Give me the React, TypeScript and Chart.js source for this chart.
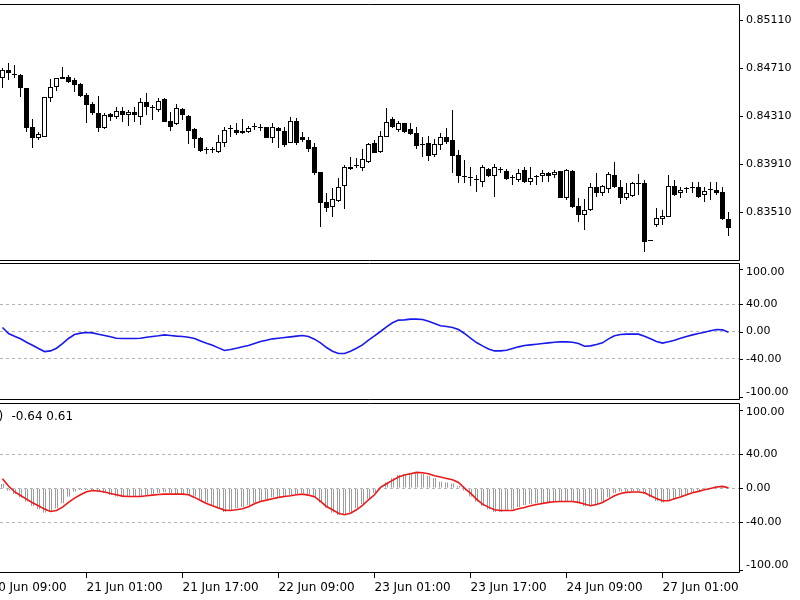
import React, { useEffect, useRef } from "react";
import { Chart, registerables } from "chart.js";

Chart.register(...registerables);

const FONT = "'DejaVu Sans', sans-serif";

// ---------- data ----------
const opens = [
  0.84631, 0.84698, 0.84664, 0.84656, 0.84548, 0.84223, 0.84131, 0.84139, 0.84464, 0.84556,
  0.84639, 0.84639, 0.84614, 0.84581, 0.84489, 0.84414, 0.84339, 0.84214, 0.84331, 0.84306,
  0.84356, 0.84323, 0.84348, 0.84306, 0.84431, 0.84381, 0.84364, 0.84456, 0.84273, 0.84248,
  0.84373, 0.84314, 0.84206, 0.84131, 0.84031, 0.84031, 0.84014, 0.84089, 0.84206, 0.84198,
  0.84189, 0.84181, 0.84223, 0.84214, 0.84223, 0.84131, 0.84214, 0.84189, 0.84089, 0.84273,
  0.84139, 0.84114, 0.84056, 0.83848, 0.83598, 0.83556, 0.83606, 0.83731, 0.83889, 0.83898,
  0.83881, 0.83931, 0.84089, 0.84014, 0.84139, 0.84289, 0.84198, 0.84256, 0.84206, 0.84173,
  0.84073, 0.84089, 0.83989, 0.84073, 0.84139, 0.84114, 0.83989, 0.83806, 0.83798, 0.83781,
  0.83764, 0.83873, 0.83814, 0.83864, 0.83856, 0.83798, 0.83781, 0.83864, 0.83764, 0.83806,
  0.83814, 0.83839, 0.83823, 0.83856, 0.83631, 0.83856, 0.83564, 0.83489, 0.83531, 0.83723,
  0.83673, 0.83706, 0.83823, 0.83723, 0.83631, 0.83648, 0.83748, 0.83756, 0.83273, 0.83406,
  0.83456, 0.83473, 0.83731, 0.83673, 0.83706, 0.83714, 0.83723, 0.83656, 0.83698, 0.83698,
  0.83681, 0.83456,
];
const highs = [
  0.84714, 0.84756, 0.84739, 0.84664, 0.84548, 0.84289, 0.84181, 0.84473, 0.84623, 0.84631,
  0.84723, 0.84656, 0.84631, 0.84589, 0.84506, 0.84431, 0.84481, 0.84339, 0.84339, 0.84389,
  0.84389, 0.84364, 0.84389, 0.84464, 0.84506, 0.84406, 0.84464, 0.84464, 0.84348, 0.84414,
  0.84381, 0.84323, 0.84214, 0.84139, 0.84056, 0.84056, 0.84156, 0.84223, 0.84239, 0.84256,
  0.84289, 0.84231, 0.84256, 0.84248, 0.84223, 0.84256, 0.84223, 0.84223, 0.84306, 0.84298,
  0.84181, 0.84139, 0.84089, 0.83848, 0.83673, 0.83714, 0.83798, 0.83906, 0.83973, 0.83964,
  0.84039, 0.84089, 0.84114, 0.84189, 0.84381, 0.84306, 0.84273, 0.84256, 0.84256, 0.84223,
  0.84139, 0.84148, 0.84123, 0.84173, 0.84214, 0.84364, 0.84031, 0.83948, 0.83889, 0.83823,
  0.83906, 0.83881, 0.83914, 0.83889, 0.83873, 0.83823, 0.83873, 0.83889, 0.83889, 0.83823,
  0.83864, 0.83848, 0.83864, 0.83856, 0.83873, 0.83864, 0.83631, 0.83623, 0.83756, 0.83839,
  0.83739, 0.83848, 0.83931, 0.83781, 0.83756, 0.83764, 0.83831, 0.83781, 0.83273, 0.83548,
  0.83531, 0.83823, 0.83781, 0.83723, 0.83723, 0.83764, 0.83764, 0.83723, 0.83764, 0.83764,
  0.83723, 0.83514,
];
const lows = [
  0.84548, 0.84614, 0.84631, 0.84473, 0.84181, 0.84048, 0.84114, 0.84139, 0.84431, 0.84523,
  0.84623, 0.84589, 0.84514, 0.84473, 0.84256, 0.84323, 0.84181, 0.84206, 0.84273, 0.84289,
  0.84264, 0.84231, 0.84264, 0.84239, 0.84323, 0.84281, 0.84348, 0.84264, 0.84189, 0.84239,
  0.84281, 0.84081, 0.84048, 0.84014, 0.83998, 0.84006, 0.84006, 0.84056, 0.84139, 0.84156,
  0.84164, 0.84173, 0.84198, 0.84189, 0.84131, 0.84089, 0.84048, 0.84056, 0.84089, 0.84073,
  0.84098, 0.84014, 0.83823, 0.83389, 0.83514, 0.83473, 0.83598, 0.83539, 0.83864, 0.83881,
  0.83856, 0.83923, 0.84006, 0.84006, 0.84139, 0.84214, 0.84181, 0.84173, 0.84156, 0.84039,
  0.83973, 0.83939, 0.83973, 0.84031, 0.84081, 0.83839, 0.83756, 0.83756, 0.83731, 0.83681,
  0.83723, 0.83806, 0.83639, 0.83839, 0.83781, 0.83739, 0.83764, 0.83756, 0.83739, 0.83739,
  0.83764, 0.83764, 0.83798, 0.83631, 0.83614, 0.83548, 0.83431, 0.83364, 0.83523, 0.83639,
  0.83648, 0.83673, 0.83714, 0.83581, 0.83614, 0.83639, 0.83656, 0.83181, 0.83273, 0.83389,
  0.83406, 0.83473, 0.83648, 0.83631, 0.83673, 0.83673, 0.83631, 0.83598, 0.83614, 0.83656,
  0.83448, 0.83314,
];
const closes = [
  0.84698, 0.84673, 0.84656, 0.84548, 0.84214, 0.84131, 0.84164, 0.84473, 0.84556, 0.84631,
  0.84623, 0.84598, 0.84573, 0.84481, 0.84406, 0.84339, 0.84214, 0.84323, 0.84306, 0.84356,
  0.84323, 0.84348, 0.84323, 0.84431, 0.84389, 0.84381, 0.84439, 0.84264, 0.84223, 0.84381,
  0.84323, 0.84189, 0.84123, 0.84023, 0.84031, 0.84031, 0.84098, 0.84198, 0.84206, 0.84173,
  0.84173, 0.84214, 0.84223, 0.84214, 0.84131, 0.84223, 0.84189, 0.84073, 0.84273, 0.84089,
  0.84114, 0.84039, 0.83839, 0.83589, 0.83548, 0.83623, 0.83723, 0.83889, 0.83873, 0.83898,
  0.83956, 0.84081, 0.84006, 0.84148, 0.84264, 0.84223, 0.84256, 0.84181, 0.84164, 0.84064,
  0.84073, 0.83981, 0.84081, 0.84139, 0.84098, 0.83981, 0.83814, 0.83806, 0.83798, 0.83781,
  0.83889, 0.83814, 0.83889, 0.83864, 0.83789, 0.83798, 0.83839, 0.83764, 0.83798, 0.83806,
  0.83839, 0.83814, 0.83848, 0.83631, 0.83864, 0.83556, 0.83489, 0.83531, 0.83723, 0.83673,
  0.83731, 0.83831, 0.83723, 0.83631, 0.83673, 0.83756, 0.83748, 0.83264, 0.83273, 0.83464,
  0.83481, 0.83731, 0.83656, 0.83698, 0.83706, 0.83714, 0.83639, 0.83689, 0.83698, 0.83673,
  0.83456, 0.83381,
];
// first indicator (blue line)
const oscMain = [
  5.9, -2.9, -6.8, -10.7, -15.6, -20, -24.9, -29.3, -28.3, -24.4,
  -17.6, -10.2, -4.4, -2.4, -1.5, -2, -3.9, -5.9, -7.8, -9.8,
  -10.2, -10.2, -10.2, -9.8, -8.3, -7.3, -6.3, -4.9, -5.9, -6.8,
  -7.3, -8.3, -10.2, -13.7, -17, -20, -23.9, -27.8, -26.4, -24.4,
  -22.4, -20.5, -17.6, -14.6, -12.7, -10.7, -9.8, -8.8, -7.8, -6.8,
  -5.9, -7.3, -11.2, -16.6, -23.4, -28.8, -32.2, -32.2, -28.8, -24.4,
  -19.5, -12.7, -6.3, 0, 6.8, 12.7, 16.6, 17, 18, 18,
  17.6, 15.1, 11.7, 8.3, 7.3, 5.9, 2.9, -2.9, -9.8, -16.1,
  -21, -25.4, -28.3, -28.3, -27.3, -24.9, -22.4, -20.5, -19.5, -18.5,
  -17.6, -16.6, -15.6, -15.1, -15.1, -15.6, -17.6, -21.5, -21, -19,
  -16.6, -10.7, -6.3, -4.4, -3.9, -3.9, -3.9, -6.8, -10.7, -14.6,
  -17, -15.1, -12.7, -9.8, -7.3, -4.9, -2.9, -1, 1, 2.9,
  2.4, -1,
];
// second indicator: histogram (grey) and signal (red)
const histValues = [
  5, -3, -7, -11, -16, -21, -25, -29, -28, -24,
  -18, -10, -4, -2, -2, -2, -4, -6, -8, -10,
  -10, -10, -10, -10, -8, -7, -6, -5, -6, -7,
  -7, -8, -10, -14, -17, -20, -24, -28, -26, -24,
  -22, -20, -18, -15, -13, -11, -10, -9, -8, -7,
  -6, -7, -11, -17, -23, -29, -32, -32, -29, -24,
  -19, -13, -6, 0, 7, 12, 16, 17, 18, 18,
  17, 15, 12, 8, 7, 6, 3, -3, -10, -16,
  -21, -25, -28, -28, -27, -25, -22, -20, -19, -18,
  -18, -17, -16, -15, -15, -16, -18, -21, -21, -19,
  -16, -11, -6, -4, -4, -4, -4, -7, -11, -15,
  -17, -15, -13, -10, -7, -5, -3, -1, 1, 3,
  2, -0.64,
];
const signalValues = [
  11.2, 2.6, -4.1, -8.5, -12.8, -17.1, -20.7, -24.6, -27.4, -26.2,
  -22.3, -16.7, -11.6, -7.7, -4.1, -2.6, -3.3, -4.5, -6.1, -7.7,
  -9.3, -9.7, -9.7, -9.7, -8.9, -8.1, -7.3, -6.9, -6.9, -6.9,
  -6.9, -7.7, -10.8, -14.4, -17.9, -20.7, -23.4, -25.8, -26.2, -25.4,
  -24.2, -21.9, -18.3, -15.6, -14, -12.4, -10.8, -9.7, -8.9, -7.7,
  -6.9, -8.1, -10, -15.6, -21.5, -25.4, -29.4, -31.3, -29.4, -25.4,
  -20.3, -13.6, -7.7, 1, 5.3, 9.3, 13.2, 15.6, 17.1, 18.7,
  18.3, 17.1, 14.8, 13.2, 11.6, 10, 6.9, 0.2, -5.7, -12.8,
  -18.7, -22.3, -25.4, -26.2, -26.2, -26.2, -24.2, -22.7, -20.7, -19.1,
  -17.9, -16.7, -16, -15.6, -15.6, -15.6, -16.7, -18.7, -20.7, -19.1,
  -16.7, -12.8, -8.9, -6.1, -4.9, -4.5, -4.5, -5.3, -8.9, -12,
  -14.8, -14.8, -12.4, -10.4, -7.7, -5.3, -3.7, -1.8, -0.2, 1.4,
  2.2, 0.61,
];
const priceTicks = [0.8351, 0.8391, 0.8431, 0.8471, 0.8511];
const oscTicks = [-100, -40, 0, 40, 100];
const levelLines = [-40, 0, 40];
const timeTickIndex = [-2, 14, 30, 46, 62, 78, 94, 110];
const timeTickLabels = [
  "20 Jun 09:00", "21 Jun 01:00", "21 Jun 17:00", "22 Jun 09:00",
  "23 Jun 01:00", "23 Jun 17:00", "24 Jun 09:00", "27 Jun 01:00",
];

// ---------- layout ----------
const AXIS_W = 61;
const X_MIN = -2.5 / 6;
const X_MAX = (739 - 2.5) / 6;
const PRICE_MIN = 0.831058;
const PRICE_MAX = 0.852475;

const fitY = (s: any) => {
  s.width = AXIS_W;
  s.paddingTop = 0;
  s.paddingBottom = 0;
};

const framePlugin = {
  id: "paneFrame",
  afterDraw(chart: any) {
    const { ctx, chartArea: a } = chart;
    const top = Math.floor(a.top) + 0.5;
    const bottom = Math.ceil(a.bottom) - 0.5;
    const right = Math.round(a.right) + 0.5;
    ctx.save();
    ctx.strokeStyle = "#000";
    ctx.lineWidth = 1;
    ctx.beginPath();
    ctx.moveTo(0, top);
    ctx.lineTo(right, top);
    ctx.lineTo(right, bottom);
    ctx.lineTo(0, bottom);
    ctx.stroke();
    ctx.restore();
  },
};

const oscAxisPlugin = {
  id: "oscAxis",
  afterDraw(chart: any) {
    const { ctx, chartArea: a, scales } = chart;
    const y = scales.y;
    ctx.save();
    ctx.font = `11px ${FONT}`;
    ctx.fillStyle = "#000";
    ctx.strokeStyle = "#000";
    ctx.lineWidth = 1;
    ctx.textBaseline = "middle";
    ctx.textAlign = "left";
    for (const v of oscTicks) {
      const py = y.getPixelForValue(v);
      const labelY = Math.min(Math.max(py, a.top + 9), a.bottom - 8);
      const markY = Math.round(Math.min(Math.max(py, a.top + 6), a.bottom - 3)) + 0.5;
      ctx.beginPath();
      ctx.moveTo(a.right, markY);
      ctx.lineTo(a.right + 4, markY);
      ctx.stroke();
      ctx.fillText(v.toFixed(2), a.right + 7, labelY);
    }
    ctx.restore();
  },
};

const titlePlugin = {
  id: "oscTitle",
  afterDraw(chart: any) {
    const { ctx, chartArea: a } = chart;
    ctx.save();
    ctx.font = `12px ${FONT}`;
    ctx.fillStyle = "#000";
    ctx.textBaseline = "middle";
    ctx.textAlign = "left";
    const h = histValues[histValues.length - 1];
    const s = signalValues[signalValues.length - 1];
    ctx.fillText(")", -1.5, a.top + 13);
    ctx.fillText(`${h.toFixed(2)} ${s.toFixed(2)}`, 11.5, a.top + 13);
    ctx.restore();
  },
};

const hiddenX = {
  type: "linear",
  display: false,
  min: X_MIN,
  max: X_MAX,
  offset: false,
  grid: { offset: false },
};

const oscY = {
  type: "linear",
  position: "right",
  min: -100,
  max: 100,
  afterFit: fitY,
  afterBuildTicks: (s: any) => {
    s.ticks = oscTicks.map((v) => ({ value: v }));
  },
  ticks: { display: false },
  grid: {
    drawOnChartArea: true,
    drawTicks: false,
    lineWidth: 1,
    color: (c: any) =>
      c.tick && levelLines.includes(c.tick.value) ? "#b4b4b4" : "rgba(0,0,0,0)",
  },
  border: { display: false, dash: [3, 3] },
};

const baseOpts = {
  responsive: false,
  maintainAspectRatio: false,
  animation: false,
  devicePixelRatio: 1,
  events: [],
  plugins: { legend: { display: false }, tooltip: { enabled: false } },
};

export default function App() {
  const ref1 = useRef<HTMLCanvasElement>(null);
  const ref2 = useRef<HTMLCanvasElement>(null);
  const ref3 = useRef<HTMLCanvasElement>(null);

  useEffect(() => {
    const idx = opens.map((_, i) => i);

    const priceChart = new Chart(ref1.current as HTMLCanvasElement, {
      type: "bar",
      data: {
        datasets: [
          {
            label: "body",
            data: idx.map((i) => ({ x: i, y: [opens[i], closes[i]] })) as any,
            backgroundColor: idx.map((i) => (closes[i] > opens[i] ? "#ffffff" : "#000000")),
            borderColor: "#000000",
            borderWidth: 1,
            borderSkipped: false,
            barThickness: 5,
            barPercentage: 1,
            categoryPercentage: 1,
            minBarLength: 1,
            grouped: false,
            inflateAmount: 0,
            order: 0,
          } as any,
          {
            label: "wick",
            data: idx.map((i) => ({ x: i, y: [lows[i], highs[i]] })) as any,
            backgroundColor: "#000000",
            borderWidth: 0,
            barThickness: 1,
            barPercentage: 1,
            categoryPercentage: 1,
            grouped: false,
            inflateAmount: 0,
            order: 1,
          } as any,
        ],
      },
      options: {
        ...baseOpts,
        layout: { padding: { top: 4, bottom: 1, left: 0, right: 0 } },
        scales: {
          x: hiddenX,
          y: {
            type: "linear",
            position: "right",
            min: PRICE_MIN,
            max: PRICE_MAX,
            afterFit: fitY,
            afterBuildTicks: (s: any) => {
              s.ticks = priceTicks.map((v) => ({ value: v }));
            },
            ticks: {
              callback: (v: any) => Number(v).toFixed(5),
              font: { family: FONT, size: 11 },
              color: "#000",
              padding: 3,
            },
            grid: { drawOnChartArea: false, drawTicks: true, tickLength: 4, color: "#000" },
            border: { display: false },
          },
        },
      } as any,
      plugins: [framePlugin],
    });

    const oscChart = new Chart(ref2.current as HTMLCanvasElement, {
      type: "line",
      data: {
        datasets: [
          {
            data: idx.map((i) => ({ x: i, y: oscMain[i] })),
            borderColor: "rgb(25,25,235)",
            borderWidth: 1.6,
            pointRadius: 0,
            tension: 0,
            fill: false,
          },
        ],
      },
      options: {
        ...baseOpts,
        layout: { padding: { top: 1, bottom: 1, left: 0, right: 0 } },
        scales: { x: hiddenX, y: oscY },
      } as any,
      plugins: [framePlugin, oscAxisPlugin],
    });

    const histChart = new Chart(ref3.current as HTMLCanvasElement, {
      type: "bar",
      data: {
        datasets: [
          {
            type: "line",
            data: idx.map((i) => ({ x: i, y: signalValues[i] })),
            borderColor: "rgb(235,25,25)",
            borderWidth: 1.6,
            pointRadius: 0,
            tension: 0,
            fill: false,
            order: 0,
          } as any,
          {
            type: "bar",
            data: idx.map((i) => ({ x: i, y: histValues[i] })),
            backgroundColor: "rgba(0,0,0,0)",
            borderColor: "#9c9c9c",
            borderWidth: { left: 1, right: 1, top: 0, bottom: 0 },
            borderSkipped: false,
            barThickness: 3,
            barPercentage: 1,
            categoryPercentage: 1,
            grouped: false,
            inflateAmount: 0,
            order: 1,
          } as any,
        ],
      },
      options: {
        ...baseOpts,
        layout: { padding: { top: 2.5, bottom: 0, left: 0, right: 0 } },
        scales: {
          x: {
            type: "linear",
            position: "bottom",
            min: X_MIN,
            max: X_MAX,
            offset: false,
            afterBuildTicks: (s: any) => {
              s.ticks = timeTickIndex.map((v) => ({ value: v }));
            },
            afterFit: (s: any) => {
              s.height = 27;
              s.paddingLeft = 0;
              s.paddingRight = 0;
            },
            ticks: {
              autoSkip: false,
              maxRotation: 0,
              minRotation: 0,
              align: "start",
              padding: 3,
              color: "#000",
              font: { family: FONT, size: 12 },
              callback: (v: any) => {
                const k = timeTickIndex.indexOf(Number(v));
                return k >= 0 ? timeTickLabels[k] : "";
              },
            },
            grid: { drawOnChartArea: false, drawTicks: true, tickLength: 5, color: "#000", offset: false },
            border: { display: false },
          },
          y: oscY,
        },
      } as any,
      plugins: [framePlugin, oscAxisPlugin, titlePlugin],
    });

    return () => {
      priceChart.destroy();
      oscChart.destroy();
      histChart.destroy();
    };
  }, []);

  const cv = (top: number, h: number): React.CSSProperties => ({
    position: "absolute",
    left: 0,
    top,
    width: 800,
    height: h,
    display: "block",
  });

  return (
    <div style={{ position: "absolute", left: 0, top: 0, width: 800, height: 600, background: "#fff", overflow: "hidden" }}>
      <canvas ref={ref1} width={800} height={262} style={cv(0, 262)} />
      <canvas ref={ref2} width={800} height={139} style={cv(262, 139)} />
      <canvas ref={ref3} width={800} height={199} style={cv(401, 199)} />
    </div>
  );
}
